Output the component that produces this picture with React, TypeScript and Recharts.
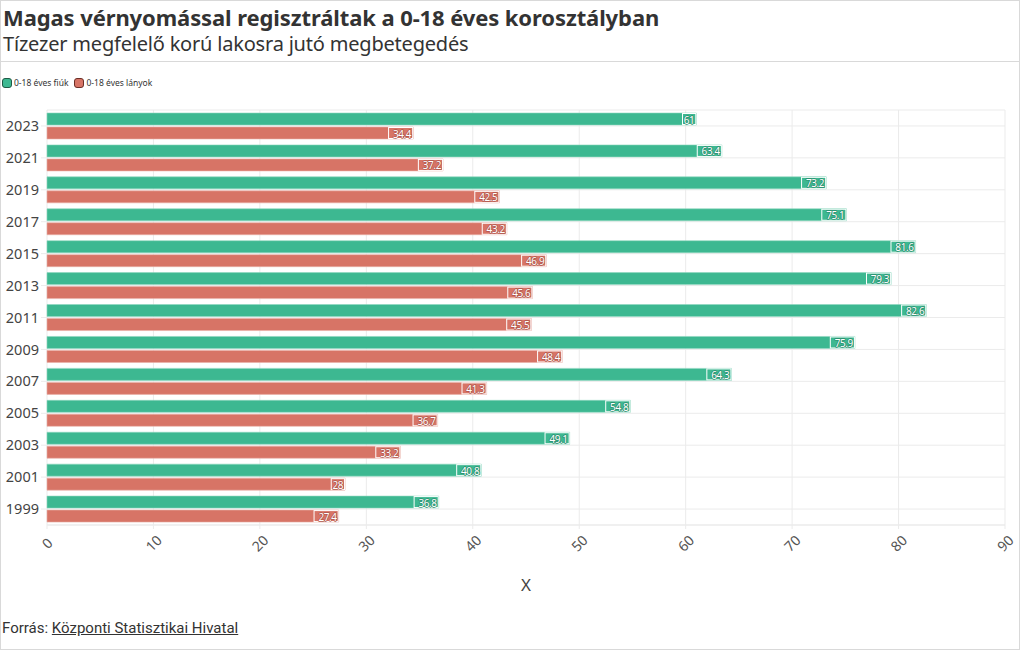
import { Bar, BarChart, CartesianGrid, XAxis, YAxis } from 'recharts'

const years = ['2023', '2021', '2019', '2017', '2015', '2013', '2011', '2009', '2007', '2005', '2003', '2001', '1999']
const boys = [61, 63.4, 73.2, 75.1, 81.6, 79.3, 82.6, 75.9, 64.3, 54.8, 49.1, 40.8, 36.8]
const girls = [34.4, 37.2, 42.5, 43.2, 46.9, 45.6, 45.5, 48.4, 41.3, 36.7, 33.2, 28, 27.4]
const xTicks = [0, 10, 20, 30, 40, 50, 60, 70, 80, 90]

const GREEN = '#3db891'
const RED = '#d77466'
const FONT = '"Noto Sans", "Open Sans", sans-serif'

const data = years.map((year, i) => ({ year, boys: boys[i], girls: girls[i] }))

function ValueLabel(color: string, edge: string) {
  return (props: any) => {
    const { x, y, width, height, value } = props
    const text = String(value)
    const w = text.length * 5.4 + 3
    const right = x + width
    return (
      <g>
        <rect x={right - w} y={y + 0.5} width={w - 0.5} height={height - 1} fill={color} stroke="#ffffff" strokeWidth={1} />
        <text x={right - 2} y={y + height / 2 + 0.5} textAnchor="end" dominantBaseline="central" fontSize={10} fontFamily={FONT}
          fill="#ffffff" stroke={edge} strokeWidth={1.4} paintOrder="stroke" strokeLinejoin="round" letterSpacing={-0.4}>
          {text}
        </text>
      </g>
    )
  }
}

function XTick({ x, y, payload }: any) {
  return (
    <text x={x} y={y + 12} transform={`rotate(-45 ${x} ${y + 12})`} textAnchor="middle" dominantBaseline="central"
      fontSize={14} fontFamily={FONT} fill="#555">
      {payload.value}
    </text>
  )
}

export default function App() {
  return (
    <div style={{ position: 'absolute', left: 0, top: 0, width: 1020, height: 650, border: '1px solid #d9d9d9', boxSizing: 'border-box', background: '#fff', fontFamily: FONT }}>
      <div style={{ position: 'absolute', left: 2, top: 1, fontSize: 22, fontWeight: 700, color: '#333', whiteSpace: 'nowrap', letterSpacing: -0.1 }}>
        Magas vérnyomással regisztráltak a 0-18 éves korosztályban
      </div>
      <div style={{ position: 'absolute', left: 2, top: 29, fontSize: 20, fontWeight: 400, color: '#333', whiteSpace: 'nowrap', letterSpacing: -0.2 }}>
        Tízezer megfelelő korú lakosra jutó megbetegedés
      </div>
      <div style={{ position: 'absolute', left: 0, top: 60, width: 1018, height: 1, background: '#d9d9d9' }} />
      <div style={{ position: 'absolute', left: 1, top: 76, display: 'flex', alignItems: 'center', fontSize: 8.5, color: '#333', whiteSpace: 'nowrap' }}>
        <span style={{ width: 10, height: 10, borderRadius: 3, background: GREEN, border: '1px solid #1f5a46', boxSizing: 'border-box', marginRight: 2 }} />
        <span style={{ marginRight: 6 }}>0-18 éves fiúk</span>
        <span style={{ width: 10, height: 10, borderRadius: 3, background: RED, border: '1px solid #6b2e26', boxSizing: 'border-box', marginRight: 2 }} />
        <span>0-18 éves lányok</span>
      </div>
      <div style={{ position: 'absolute', left: -1, top: -1 }}>
        <BarChart width={1020} height={650} data={data} layout="vertical" barSize={12} barGap={2}
          margin={{ top: 110, right: 15, bottom: 59, left: 0 }}>
          <CartesianGrid stroke="#ebebeb" />
          <XAxis type="number" domain={[0, 90]} ticks={xTicks} interval={0} height={66} tick={<XTick />}
            axisLine={{ stroke: '#ebebeb' }} tickLine={{ stroke: '#ebebeb' }} tickSize={4}
            label={{ value: 'X', position: 'insideBottom', offset: 0, fontSize: 17, fill: '#444', fontFamily: FONT }} />
          <YAxis type="category" dataKey="year" width={47} axisLine={false} tickLine={{ stroke: '#ebebeb' }} tickSize={6}
            tick={{ fontSize: 14.5, fill: '#444', fontFamily: FONT }} />
          <Bar dataKey="boys" fill={GREEN} stroke="#8fd6bf" strokeWidth={0.6} isAnimationActive={false} label={ValueLabel(GREEN, '#2a8d6d')} />
          <Bar dataKey="girls" fill={RED} stroke="#eab0a7" strokeWidth={0.6} isAnimationActive={false} label={ValueLabel(RED, '#b0554a')} />
        </BarChart>
      </div>
      <div style={{ position: 'absolute', left: 1, top: 618, fontSize: 15, color: '#333', whiteSpace: 'nowrap', fontFamily: '"Liberation Sans Narrow", "Roboto", sans-serif' }}>
        Forrás: <span style={{ textDecoration: 'underline' }}>Központi Statisztikai Hivatal</span>
      </div>
    </div>
  )
}
